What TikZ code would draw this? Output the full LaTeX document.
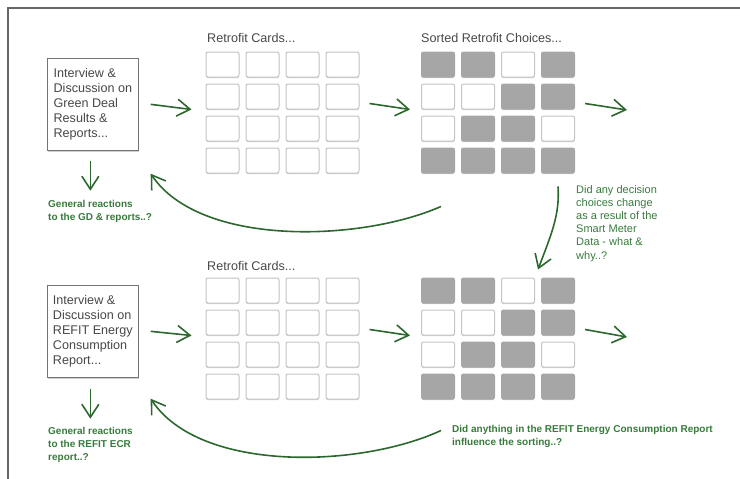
\documentclass[tikz,border=0pt]{standalone}
\usepackage{fontspec}
\setmainfont{Liberation Sans}
\usetikzlibrary{positioning,arrows.meta,shadows}
\definecolor{leaf}{RGB}{44,104,46}
\definecolor{leaftext}{RGB}{56,122,60}
\definecolor{ink}{RGB}{72,72,72}
\definecolor{cardgrey}{RGB}{166,166,166}
\definecolor{cardline}{RGB}{196,196,196}

\begin{document}
\begin{tikzpicture}[x=1pt, y=-1pt,
    card/.style={draw=cardline, line width=1pt, fill=white, rounded corners=2pt,
        minimum width=33pt, minimum height=25pt, inner sep=0pt,
        drop shadow={shadow xshift=0pt, shadow yshift=-1.2pt, opacity=0.3, fill=black!60}},
    cardw/.style={card},
    cardg/.style={card, draw=cardgrey, fill=cardgrey},
    talkbox/.style={draw=black!55, fill=white, line width=0.7pt, minimum width=91pt,
        minimum height=92pt, align=left, inner xsep=0pt, text=ink,
        font=\fontsize{12.6}{15}\selectfont,
        drop shadow={shadow xshift=0.5pt, shadow yshift=-1.5pt, opacity=0.3, fill=black!60}},
    title/.style={anchor=base west, inner sep=0pt, text=ink, font=\fontsize{12.6}{15}\selectfont},
    ask/.style={anchor=north west, inner sep=0pt, align=left, text=leaftext,
        font=\bfseries\fontsize{10}{13}\selectfont},
    note/.style={anchor=north west, inner sep=0pt, align=left, text=leaftext,
        font=\fontsize{11}{13.2}\selectfont},
    arr/.style={draw=leaf, line width=1.6pt, -{Straight Barb[length=13pt, width=17pt]}},
]
\useasboundingbox (0,0) rectangle (740,479);

% Frame
\draw[black!60, line width=1.2pt] (8,479) -- (8,8) -- (740,8);

% Interview boxes
\node[talkbox, anchor=north west] (ivA) at (47,58) {Interview \&\\Discussion on\\Green Deal\\Results \&\\Reports...};
\node[talkbox, anchor=north west] (ivB) at (47,285) {Interview \&\\Discussion on\\REFIT Energy\\Consumption\\Report...};

% Retrofit cards
\node[title] (tcA) at (207,42) {Retrofit Cards...};
\node[title] (tcB) at (207,270) {Retrofit Cards...};
\foreach \r in {1,...,4}
  \foreach \c in {1,...,4} {
    \node[card] (cA-\r-\c) at ({222.5+40*(\c-1)}, {64.5+32*(\r-1)}) {};
    \node[card] (cB-\r-\c) at ({222.5+40*(\c-1)}, {290.5+32*(\r-1)}) {};
  }

% Sorted choices
\node[title] (tsA) at (421,42) {Sorted Retrofit Choices...};
\foreach [count=\i from 0] \f in {g,g,w,g, w,w,g,g, w,g,g,w, g,g,g,g} {
    \pgfmathtruncatemacro\r{\i/4+1}
    \pgfmathtruncatemacro\c{mod(\i,4)+1}
    \node[card\f] (sA-\r-\c) at ({438+40*(\c-1)}, {64.5+32*(\r-1)}) {};
    \node[card\f] (sB-\r-\c) at ({438+40*(\c-1)}, {290.5+32*(\r-1)}) {};
}

% Questions
\node[ask] (gA) at (48,200) {General reactions\\to the GD \& reports..?};
\node[ask] (gB) at (48,427) {General reactions\\to the REFIT ECR\\report..?};
\node[note] (smart) at (576,185) {Did any decision\\choices change\\as a result of the\\Smart Meter\\Data - what \&\\why..?};
\node[ask] (refit) at (452,425) {Did anything in the REFIT Energy Consumption Report\\influence the sorting..?};

% Arrows, first round
\coordinate (outA) at (627,110);
\draw[arr] ([xshift=12pt]ivA.east) -- ([xshift=-14pt]cA-2-1.south west);
\draw[arr] ([shift={(10,7)}]cA-2-4.east) -- ([xshift=-11pt]sA-2-1.south west);
\draw[arr] ([shift={(10,7)}]sA-2-4.east) -- (outA);
\draw[arr] ([shift={(-2.5,10)}]ivA.south) -- ++(0,30);
\draw[arr] ([shift={(3,33)}]sA-4-1.south) .. controls (360,242) and (200,247) .. ([shift={(12,23)}]ivA.south east);
\draw[arr] ([yshift=-13pt]sA-4-4.south) .. controls (560,215) and (551,235) .. ([shift={(3,-8)}]sB-1-3.north east);

% Arrows, second round
\coordinate (outB) at (627,337);
\draw[arr] ([xshift=12pt]ivB.east) -- ([xshift=-14pt]cB-2-1.south west);
\draw[arr] ([shift={(10,7)}]cB-2-4.east) -- ([xshift=-11pt]sB-2-1.south west);
\draw[arr] ([shift={(10,7)}]sB-2-4.east) -- (outB);
\draw[arr] ([shift={(-2.5,11)}]ivB.south) -- ++(0,30);
\draw[arr] ([shift={(3,31)}]sB-4-1.south) .. controls (360,468) and (200,473) .. ([shift={(12,21)}]ivB.south east);
\end{tikzpicture}
\end{document}
